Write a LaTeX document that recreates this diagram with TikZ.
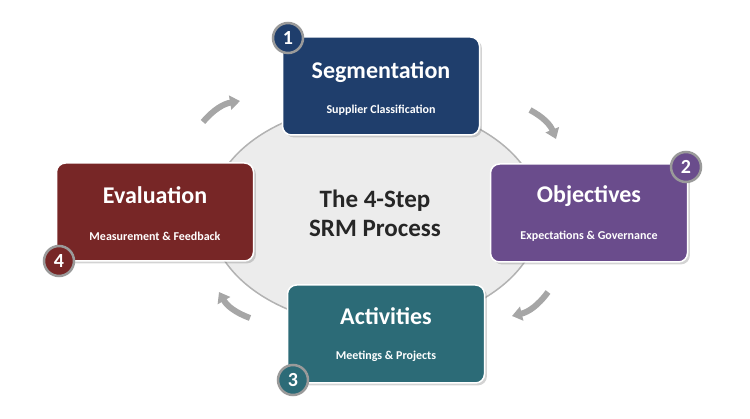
\documentclass[tikz,border=0pt]{standalone}
\usepackage{fontspec}
\setmainfont{Carlito}
\usetikzlibrary{arrows.meta, positioning, shapes.geometric, shadows}

\definecolor{segblue}{HTML}{1F3E6C}
\definecolor{objpurple}{HTML}{6A4C8C}
\definecolor{actteal}{HTML}{2C6B77}
\definecolor{evalred}{HTML}{772626}
\definecolor{ringgray}{HTML}{9A9A9A}

\tikzset{
  stepbox/.style={rounded corners=9pt, draw=white, line width=1.5pt,
    minimum width=197pt, minimum height=98pt, drop shadow={opacity=0.35},
    text=white, font=\bfseries},
  steptitle/.style={text=white, font=\bfseries\fontsize{24}{24}\selectfont},
  stepsub/.style={text=white, font=\bfseries\fontsize{12}{12}\selectfont},
  badge/.style={circle, draw=ringgray, line width=2.5pt, minimum size=30pt,
    text=white, font=\bfseries\fontsize{20}{20}\selectfont},
  turn/.style={draw=gray!70, line width=6pt, -{Triangle[length=10pt, width=14pt]}},
}

\begin{document}
\begin{tikzpicture}[x=1pt, y=-1pt]
    \useasboundingbox (0,0) rectangle (750,419);

    % Centre
    \node[ellipse, draw=gray!60, line width=1.5pt, fill=gray!15,
      minimum width=330pt, minimum height=222pt] (hub) at (375,215) {};
    \node[font=\bfseries\fontsize{25}{29}\selectfont, align=center, text=black!85]
      (title) at (375,213) {The 4-Step\\SRM Process};

    % Steps
    \node[stepbox, fill=segblue] (seg) at (381,86) {};
    \node[steptitle] (segT) at (381,72) {Segmentation};
    \node[stepsub] (segS) at (381,110) {Supplier Classification};

    \node[stepbox, fill=objpurple] (obj) at (589,213) {};
    \node[steptitle] (objT) at (589,196) {Objectives};
    \node[stepsub] (objS) at (589,236) {Expectations \& Governance};

    \node[stepbox, fill=actteal] (act) at (386,334) {};
    \node[steptitle] (actT) at (386,316) {Activities};
    \node[stepsub] (actS) at (386,356) {Meetings \& Projects};

    \node[stepbox, fill=evalred] (eval) at (155,212) {};
    \node[steptitle] (evalT) at (155,195) {Evaluation};
    \node[stepsub] (evalS) at (155,236) {Measurement \& Feedback};

    % Badges
    \node[badge, fill=segblue] (b1) at (288,38) {1};
    \node[badge, fill=objpurple] (b2) at (686,167) {2};
    \node[badge, fill=actteal] (b3) at (293,380) {3};
    \node[badge, fill=evalred] (b4) at (59,261) {4};

    % Turn arrows
    \coordinate (a1s) at (203,122); \coordinate (a1e) at (240,101);
    \coordinate (a2s) at (530,110); \coordinate (a2e) at (556,139);
    \coordinate (a3s) at (548,292); \coordinate (a3e) at (512,316);
    \coordinate (a4s) at (250,318); \coordinate (a4e) at (219,292);
    \draw[turn] (a1s) to[bend left=20] (a1e);
    \draw[turn] (a2s) to[bend left=20] (a2e);
    \draw[turn] (a3s) to[bend left=20] (a3e);
    \draw[turn] (a4s) to[bend left=20] (a4e);
\end{tikzpicture}
\end{document}
